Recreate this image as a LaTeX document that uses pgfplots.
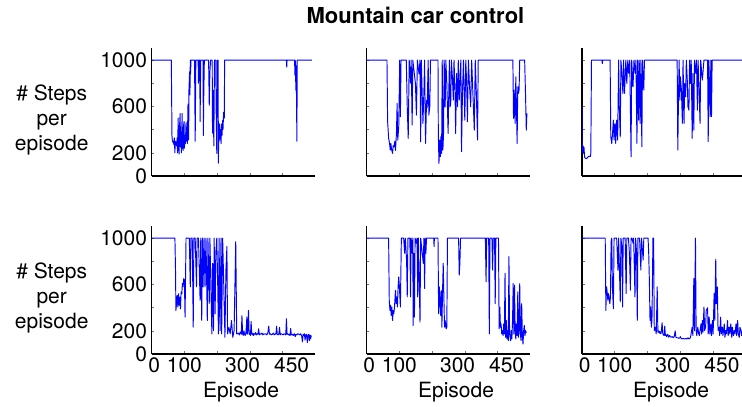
\documentclass[border=0pt]{standalone}
\usepackage{fontspec}
\setmainfont{TeX Gyre Heros}
\usepackage{pgfplots}
\pgfplotsset{compat=1.18}
\definecolor{lineblue}{RGB}{0,0,255}
\pgfplotsset{
  panel/.style={
    scale only axis, width=163.5pt, height=127.5pt,
    anchor=south west,
    xmin=0, xmax=500, ymin=0, ymax=1100,
    axis x line*=bottom, axis y line*=left,
    axis line style={line width=1.1pt, black},
    tick align=inside, major tick length=2.5pt,
    tick style={line width=0.5pt, black!55},
    xtick={100,200,300,400}, xticklabels={},
    ytick={0,200,400,600,800,1000}, yticklabels={},
    font=\fontsize{21}{25}\selectfont,
    /pgf/number format/assume math mode=true,
    xticklabel style={inner sep=0pt, yshift=-3pt},
    yticklabel style={inner sep=0pt, xshift=-4.5pt},
  },
  leftcol/.style={yticklabels={0,200,{},600,{},1000}},
  bottomrow/.style={extra x ticks={8,100,278,428}, extra x tick labels={0,100,300,450}, extra x tick style={major tick length=0pt}},
  data/.style={color=lineblue, line width=0.95pt, line join=round, mark=none},
}
\begin{document}
\begin{tikzpicture}[x=1pt,y=1pt]
\useasboundingbox (0,0) rectangle (742,407);
% ---------- top row ----------
\begin{axis}[panel, leftcol, at={(151.7pt,231pt)}]
\addplot[data] coordinates {(0,1000)(60,1000)(62,350)(63,310)(65,290)(66,300)(68,270)(69,330)(71,200)(72,300)(74,290)(76,260)(78,330)(79,200)(81,500)(82,280)(84,190)(85,420)(87,540)(88,250)(90,380)(91,200)(93,540)(94,300)(96,220)(97,420)(99,470)(100,240)(102,350)(103,280)(105,460)(106,300)(108,420)(109,280)(111,620)(112,450)(113,310)(114,750)(116,900)(117,700)(118,1000)(119,880)(120,1000)(131,1000)(133,300)(135,1000)(142,1000)(143,800)(145,1000)(147,1000)(148,470)(150,1000)(157,1000)(158,350)(159,650)(161,1000)(174,1000)(176,610)(178,900)(180,1000)(185,1000)(186,370)(188,740)(190,260)(192,1000)(196,1000)(197,600)(199,195)(201,1000)(203,1000)(204,110)(205,420)(206,300)(208,450)(209,320)(211,400)(212,280)(214,450)(215,350)(217,480)(218,400)(220,550)(222,500)(223,1000)(412,1000)(413,940)(414,1000)(437,1000)(438,870)(439,1000)(441,740)(442,950)(444,300)(445,1000)(490,1000)};
\end{axis}
\begin{axis}[panel, at={(366.7pt,231pt)}]
\addplot[data] coordinates {(0,1000)(62,1000)(64,470)(67,325)(70,280)(72,224)(74,280)(76,230)(79,195)(81,260)(83,250)(86,300)(88,220)(91,370)(93,626)(95,310)(98,425)(101,1000)(103,511)(105,1000)(121,1000)(124,597)(127,325)(130,1000)(134,800)(136,1000)(139,440)(141,1000)(149,800)(152,525)(155,1000)(160,880)(163,1000)(165,295)(167,1000)(172,454)(175,740)(177,1000)(180,281)(183,650)(185,590)(188,1000)(190,525)(193,600)(195,1000)(218,1000)(219,367)(221,109)(223,310)(225,166)(227,340)(229,195)(231,1000)(233,224)(235,367)(237,1000)(240,597)(242,1000)(245,800)(249,367)(251,712)(253,1000)(255,597)(257,626)(259,1000)(262,856)(265,655)(267,1000)(270,741)(272,367)(275,885)(278,597)(280,1000)(283,655)(286,885)(288,1000)(290,210)(293,741)(296,1000)(298,712)(300,482)(303,1000)(306,770)(308,468)(311,1000)(314,798)(318,597)(321,1000)(324,770)(329,396)(332,1000)(335,741)(339,310)(341,1000)(447,1000)(449,497)(451,741)(454,454)(456,856)(458,597)(460,281)(462,770)(464,712)(466,741)(468,1000)(480,1000)(483,1000)(486,670)(488,396)(490,540)};
\end{axis}
\begin{axis}[panel, at={(582pt,231pt)}]
\addplot[data] coordinates {(0,600)(1,240)(2,200)(3,260)(5,200)(6,250)(8,160)(12,150)(16,155)(20,170)(26,170)(27,200)(29,1000)(61,1000)(62,970)(63,1000)(86,1000)(88,338)(91,280)(94,396)(96,482)(98,310)(101,454)(103,281)(106,482)(109,310)(112,1000)(114,597)(117,338)(119,1000)(122,885)(125,712)(127,1000)(130,712)(134,1000)(137,798)(140,1000)(143,885)(146,1000)(150,166)(152,1000)(156,770)(159,1000)(163,885)(165,1000)(168,281)(170,1000)(173,482)(175,1000)(178,454)(180,1000)(183,252)(185,1000)(189,741)(191,1000)(291,1000)(293,224)(295,655)(297,1000)(299,655)(301,856)(304,741)(307,454)(309,1000)(312,454)(314,798)(317,683)(319,1000)(322,827)(324,597)(327,568)(329,1000)(332,798)(334,1000)(337,324)(339,885)(342,396)(344,1000)(348,885)(350,1000)(353,568)(355,1000)(358,741)(361,454)(363,1000)(368,827)(373,1000)(384,1000)(386,296)(388,1000)(392,511)(394,1000)(396,511)(398,1000)(495,1000)};
\end{axis}
% ---------- bottom row ----------
\begin{axis}[panel, leftcol, bottomrow, at={(151.7pt,53pt)}]
\addplot[data] coordinates {(0,1000)(71,1000)(73,695)(74,376)(76,434)(78,505)(80,405)(82,520)(84,420)(86,490)(88,390)(90,535)(92,520)(94,608)(96,580)(98,650)(100,640)(102,318)(105,1000)(115,1000)(118,579)(120,1000)(124,1000)(127,231)(129,1000)(133,1000)(137,579)(139,1000)(143,1000)(148,463)(150,1000)(153,289)(155,1000)(157,579)(160,1000)(163,579)(166,1000)(170,289)(172,1000)(176,434)(178,1000)(184,173)(186,782)(189,202)(191,1000)(194,347)(196,869)(199,1000)(202,579)(204,173)(206,1000)(209,202)(212,1000)(214,173)(217,1000)(220,637)(224,144)(227,724)(230,927)(232,173)(236,231)(240,173)(244,289)(248,144)(252,202)(257,970)(260,173)(262,175)(265,180)(268,165)(271,190)(274,170)(276,330)(278,175)(280,160)(282,200)(284,170)(286,160)(288,180)(290,260)(291,320)(292,170)(294,200)(296,376)(298,170)(300,180)(302,160)(304,280)(306,170)(308,165)(310,180)(312,160)(314,175)(316,170)(318,185)(320,165)(323,175)(325,170)(327,217)(329,165)(331,175)(334,170)(337,180)(340,165)(343,175)(346,170)(349,175)(352,165)(355,180)(358,240)(360,170)(363,175)(366,165)(369,170)(372,180)(375,165)(378,175)(380,170)(382,240)(384,170)(387,165)(389,175)(391,230)(393,165)(396,175)(399,170)(402,165)(405,175)(408,170)(410,165)(412,304)(414,170)(416,175)(418,165)(420,170)(423,160)(425,220)(427,165)(430,170)(433,160)(436,175)(439,150)(441,170)(444,165)(447,175)(450,170)(453,165)(456,175)(459,150)(461,105)(463,170)(465,160)(467,175)(469,120)(471,165)(473,170)(476,100)(478,165)(480,170)(482,115)(484,165)(486,130)(488,160)};
\end{axis}
\begin{axis}[panel, bottomrow, at={(366.7pt,53pt)}]
\addplot[data] coordinates {(0,1000)(67,1000)(69,463)(71,376)(73,420)(75,333)(77,405)(79,289)(81,376)(83,347)(85,405)(88,550)(90,434)(92,492)(94,405)(96,579)(98,666)(100,579)(103,405)(106,1000)(113,1000)(116,869)(118,1000)(122,811)(124,492)(126,1000)(132,1000)(134,492)(136,1000)(139,869)(141,1000)(142,246)(144,869)(146,318)(148,1000)(152,956)(154,1000)(156,492)(158,1000)(163,275)(165,1000)(170,869)(173,782)(175,1000)(177,565)(179,1000)(181,869)(183,1000)(205,1000)(206,927)(207,1000)(218,1000)(220,347)(222,579)(224,463)(226,333)(228,550)(230,231)(232,550)(234,782)(236,492)(238,231)(240,289)(243,217)(245,231)(247,1000)(281,1000)(283,680)(285,782)(287,1000)(363,1000)(365,623)(367,1000)(373,1000)(375,173)(377,1000)(383,1000)(385,724)(387,1000)(391,1000)(393,434)(395,1000)(403,1000)(405,217)(407,405)(409,231)(411,260)(413,173)(415,202)(417,159)(419,260)(421,173)(423,695)(425,144)(427,289)(429,130)(431,202)(433,115)(435,840)(437,173)(440,115)(442,202)(444,130)(446,289)(448,608)(450,173)(452,594)(454,202)(456,130)(458,260)(460,159)(462,536)(464,144)(466,202)(468,608)(470,173)(472,115)(474,434)(476,159)(478,86)(480,202)(482,246)(484,159)(486,202)(488,180)};
\end{axis}
\begin{axis}[panel, bottomrow, at={(582pt,53pt)}]
\addplot[data] coordinates {(0,1000)(71,1000)(73,376)(75,579)(77,536)(79,463)(81,521)(83,478)(85,434)(87,492)(89,970)(91,1000)(93,579)(96,391)(98,1000)(106,1000)(110,724)(112,1000)(117,449)(119,1000)(122,927)(124,405)(126,1000)(132,1000)(135,521)(137,1000)(142,1000)(145,869)(148,550)(150,1000)(153,1000)(156,956)(158,1000)(162,492)(164,1000)(167,869)(169,289)(171,1000)(176,1000)(180,724)(182,1000)(187,811)(189,1000)(202,1000)(204,869)(206,637)(208,289)(210,405)(212,231)(214,289)(217,1000)(219,1000)(221,202)(224,231)(227,173)(230,579)(232,188)(234,200)(236,180)(238,195)(240,175)(242,180)(245,270)(247,175)(249,165)(251,160)(253,240)(255,160)(257,165)(259,150)(262,170)(265,145)(268,160)(270,150)(273,145)(276,150)(279,140)(282,150)(285,200)(287,145)(290,140)(293,140)(296,135)(299,140)(301,150)(303,135)(306,130)(309,135)(312,130)(315,130)(318,135)(321,130)(324,140)(327,130)(330,135)(332,145)(335,200)(337,231)(339,159)(342,652)(344,202)(347,1000)(349,202)(351,159)(354,231)(357,173)(359,159)(361,202)(364,260)(366,173)(368,289)(370,188)(373,405)(375,202)(378,231)(380,376)(384,399)(386,173)(389,318)(391,173)(394,260)(396,159)(399,289)(401,173)(404,521)(406,289)(409,817)(411,434)(414,579)(416,202)(419,231)(421,159)(424,318)(426,173)(429,231)(431,159)(435,260)(437,144)(440,202)(442,173)(445,289)(447,159)(450,231)(452,173)(455,260)(458,144)(460,231)(463,159)(466,202)(468,173)(471,260)(473,159)(476,289)(478,173)(481,144)(483,231)(486,202)(488,159)(492,230)(495,170)};
\end{axis}
% ---------- labels ----------
\node[anchor=base, inner sep=0pt, font=\bfseries\fontsize{22}{26}\selectfont] at (415.5,383.7) {Mountain car control};
\node[anchor=north, align=center, inner sep=0pt, font=\fontsize{21}{25}\selectfont] at (51.7,322) {\# Steps\\per\\episode};
\node[anchor=north, align=center, inner sep=0pt, font=\fontsize{21}{25}\selectfont] at (51.7,144) {\# Steps\\per\\episode};
\node[anchor=base, inner sep=0pt, font=\fontsize{21}{25}\selectfont] at (241,9) {Episode};
\node[anchor=base, inner sep=0pt, font=\fontsize{21}{25}\selectfont] at (456,9) {Episode};
\node[anchor=base, inner sep=0pt, font=\fontsize{21}{25}\selectfont] at (671,9) {Episode};
\end{tikzpicture}
\end{document}
